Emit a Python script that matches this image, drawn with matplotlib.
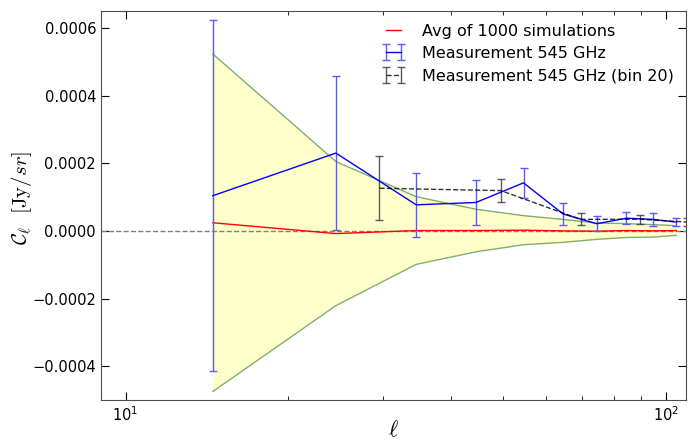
import numpy as np
import matplotlib
matplotlib.use("Agg")
import matplotlib.pyplot as plt

# Multipole bin centres
ell_10 = [14.5, 24.5, 34.5, 44.5, 54.5, 64.5, 74.5, 84.5, 94.5, 104.5]
ell_20 = [29.5, 49.5, 69.5, 89.5, 109.5]

# Mean and scatter of the simulations
sim_mean = [0.000024, -0.000008, 0.000001, 0.000001, 0.000002,
            0.0, -0.000001, 0.000001, 0.0, 0.000001]
sim_std = [0.000499, 0.000213, 0.000100, 0.000063, 0.000043,
           0.000034, 0.000024, 0.0000205, 0.0000185, 0.0000143]

# Measured spectrum, bins of 10
meas_10 = [0.000104, 0.000230, 0.000077, 0.000084, 0.000142,
           0.000050, 0.000021, 0.0000375, 0.000034, 0.000026]
err_10 = [0.000519, 0.000228, 0.000095, 0.000067, 0.000045,
          0.000033, 0.000022, 0.000018, 0.000019, 0.000013]

# Measured spectrum, bins of 20
meas_20 = [0.000126, 0.000119, 0.000034, 0.0000345, 0.000026]
err_20 = [0.000094, 0.000035, 0.000018, 0.000013, 0.000012]

plt.rcParams.update({
    "font.family": "DejaVu Sans",
    "font.size": 10,
    "mathtext.fontset": "cm",
    "xtick.direction": "in",
    "ytick.direction": "in",
    "xtick.top": True,
    "ytick.right": True,
    "xtick.major.size": 6,
    "ytick.major.size": 6,
    "xtick.minor.size": 3,
    "xtick.minor.visible": True,
})

fig = plt.figure(figsize=(6.91, 4.41), dpi=100)
ax = fig.add_axes([0.146, 0.093, 0.847, 0.882])

mean = np.array(sim_mean)
std = np.array(sim_std)
ax.fill_between(ell_10, mean - std, mean + std, facecolor="yellow",
                alpha=0.2, linewidth=0)
ax.plot(ell_10, mean + std, color="#7fb06a", lw=1)
ax.plot(ell_10, mean - std, color="#7fb06a", lw=1)

ax.axhline(0, color="gray", ls="--", lw=1)

ax.plot(ell_10, sim_mean, color="red", lw=1, label="Avg of 1000 simulations")
ax.errorbar(ell_10, meas_10, yerr=err_10, color="blue", ecolor="#5a5aff",
            lw=1, elinewidth=1, capsize=3, label="Measurement 545 GHz")
ax.errorbar(ell_20, meas_20, yerr=err_20, fmt="--", color="k",
            ecolor="#333333", lw=1, elinewidth=1, capsize=3, alpha=0.8,
            label="Measurement 545 GHz (bin 20)")

ax.set_xscale("log")
ax.set_xlim(9.0, 109.0)
ax.set_ylim(-0.0005, 0.00065)
ax.set_yticks([-0.0004, -0.0002, 0.0, 0.0002, 0.0004, 0.0006])
ax.tick_params(labelsize=10.5)

for s in ax.spines.values():
    s.set_color("0.3")

ax.set_xlabel(r"$\ell$", fontsize=16, va="center")
ax.set_ylabel(r"$\mathcal{C}_\ell\ \ [\mathrm{Jy}/sr]$", fontsize=15,
              va="center")
ax.xaxis.set_label_coords(0.5, -0.078)
ax.yaxis.set_label_coords(-0.135, 0.52)

ax.legend(loc="upper right", frameon=False, fontsize=11.5, numpoints=2,
          handlelength=1.5, handletextpad=1.0, labelspacing=0.45,
          borderaxespad=0.4)

fig.savefig("out.png", dpi=100)
